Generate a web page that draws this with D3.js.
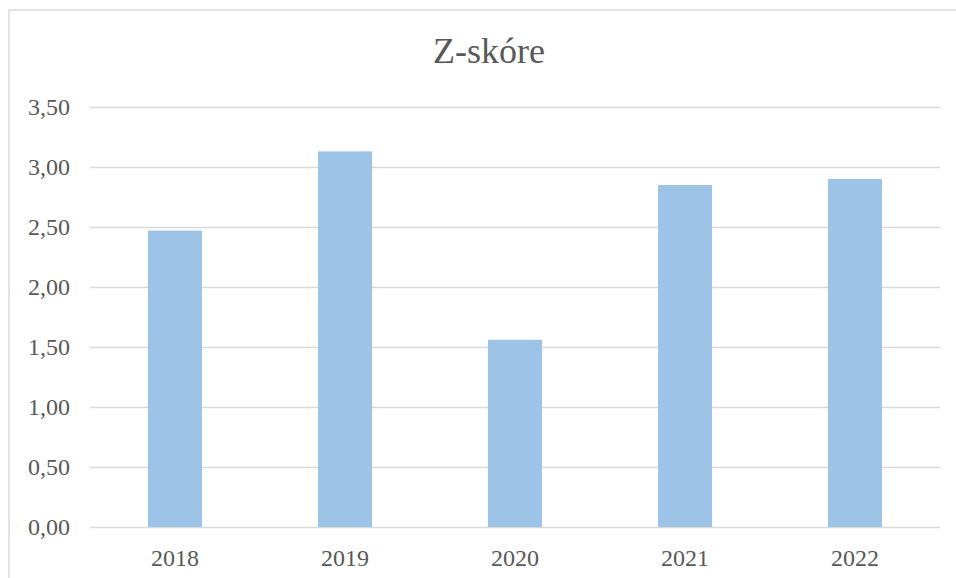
<!DOCTYPE html>
<html>
<head>
<meta charset="utf-8">
<script src="https://cdn.jsdelivr.net/npm/d3@7"></script>
<style>
  body { margin: 0; background: #fff; }
  svg { display: block; }
</style>
</head>
<body>
<svg id="drawing_region"></svg>
<script>
// data
const years = ['2018', '2019', '2020', '2021', '2022'];
const zScore = [2.47, 3.13, 1.56, 2.85, 2.90];
const yTicks = [0, 0.5, 1, 1.5, 2, 2.5, 3, 3.5];
const title = 'Z-skóre';

const config = {
    parent: '#drawing_region',
    width: 956,
    height: 578,
    margin: {top: 107, right: 16, bottom: 51, left: 90}
};

const fmt = d => d.toFixed(2).replace('.', ',');

const svg = d3.select(config.parent)
    .attr('width', config.width)
    .attr('height', config.height);

// chart area border (runs past right/bottom edge like the reference)
svg.append('rect')
    .attr('x', 9).attr('y', 10)
    .attr('width', 980).attr('height', 600)
    .attr('fill', 'none')
    .attr('stroke', '#d9d9d9')
    .attr('stroke-width', 1.5);

const innerW = config.width - config.margin.left - config.margin.right;
const innerH = config.height - config.margin.top - config.margin.bottom;

const chart = svg.append('g')
    .attr('transform', `translate(${config.margin.left}, ${config.margin.top})`);

const x = d3.scaleBand()
    .domain(years)
    .range([0, innerW])
    .paddingInner(0.682)
    .paddingOuter(0.341);

const y = d3.scaleLinear()
    .domain([0, 3.5])
    .range([innerH, 0]);

// gridlines + y labels
const yAxis = d3.axisLeft(y)
    .tickValues(yTicks)
    .tickFormat(fmt)
    .tickSize(-innerW)
    .tickPadding(20);

chart.append('g')
    .call(yAxis)
    .call(g => g.select('.domain').remove())
    .call(g => g.selectAll('.tick line')
        .attr('stroke', '#d9d9d9')
        .attr('stroke-width', 1.6))
    .call(g => g.selectAll('.tick text')
        .attr('fill', '#595959')
        .attr('font-family', '"Liberation Serif", "Times New Roman", serif')
        .attr('font-size', '24px')
        .attr('dy', '0.3em'));

// bars
chart.selectAll('.bar')
    .data(zScore)
    .enter()
    .append('rect')
    .attr('class', 'bar')
    .attr('x', (d, i) => x(years[i]))
    .attr('y', d => y(d))
    .attr('width', x.bandwidth())
    .attr('height', d => innerH - y(d))
    .attr('fill', '#9dc3e6');

// x labels
const xAxis = d3.axisBottom(x).tickSize(0).tickPadding(22);

chart.append('g')
    .attr('transform', `translate(0, ${innerH})`)
    .call(xAxis)
    .call(g => g.select('.domain').remove())
    .call(g => g.selectAll('.tick text')
        .attr('fill', '#595959')
        .attr('font-family', '"Liberation Serif", "Times New Roman", serif')
        .attr('font-size', '24px'));

// title
svg.append('text')
    .attr('x', 489)
    .attr('y', 63)
    .attr('text-anchor', 'middle')
    .attr('fill', '#595959')
    .attr('font-family', '"Liberation Serif", "Times New Roman", serif')
    .attr('font-size', '36px')
    .text(title);
</script>
</body>
</html>
